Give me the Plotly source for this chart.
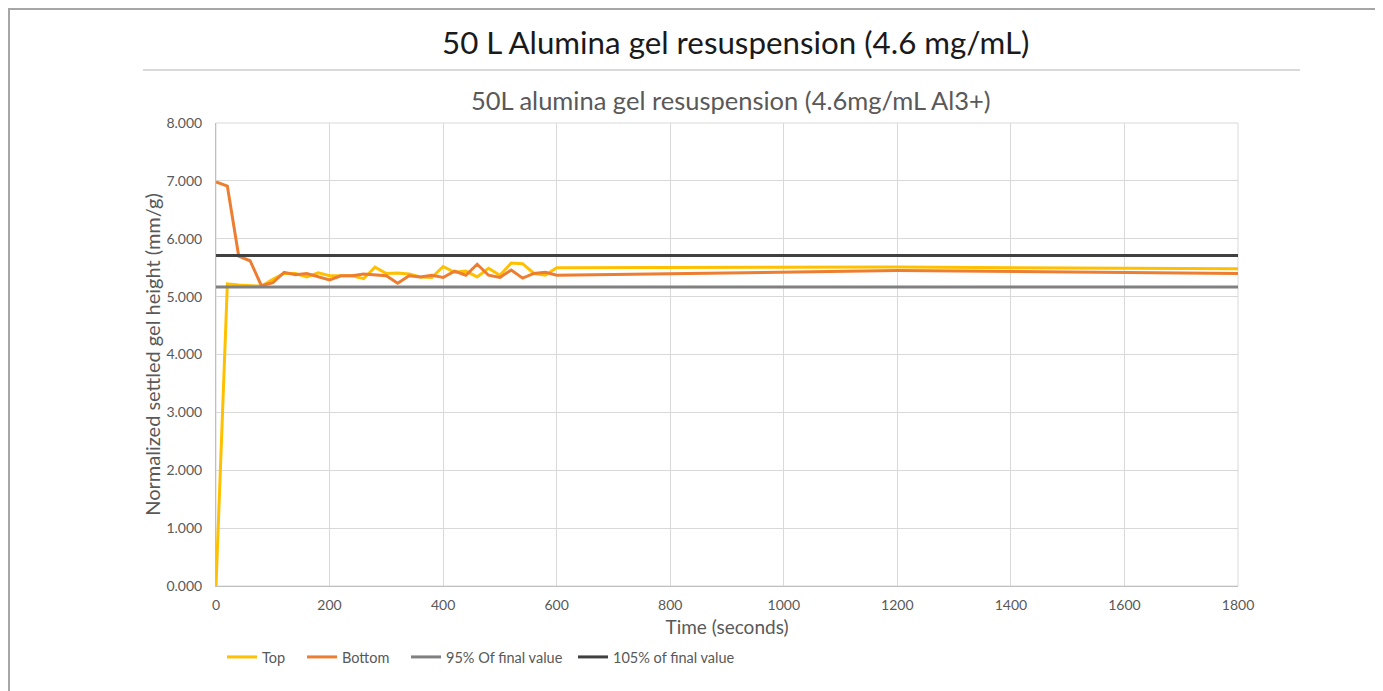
import plotly.graph_objects as go

# Tempo (s) e alturas normalizadas (mm/g)
time_s = [0, 20, 40, 60, 80, 100, 120, 140, 160, 180, 200, 220, 240, 260, 280, 300,
          320, 340, 360, 380, 400, 420, 440, 460, 480, 500, 520, 540, 560, 580, 600,
          1200, 1800]
top = [0.0, 5.22, 5.20, 5.19, 5.18, 5.30, 5.40, 5.40, 5.34, 5.41, 5.36, 5.36, 5.36, 5.31,
       5.51, 5.40, 5.41, 5.39, 5.34, 5.33, 5.52, 5.42, 5.44, 5.34, 5.49, 5.37, 5.58, 5.57,
       5.40, 5.37, 5.50, 5.51, 5.48]
bottom = [6.98, 6.91, 5.70, 5.62, 5.19, 5.24, 5.42, 5.38, 5.40, 5.34, 5.29, 5.36, 5.36,
          5.39, 5.38, 5.36, 5.23, 5.36, 5.34, 5.37, 5.33, 5.44, 5.37, 5.56, 5.37, 5.33,
          5.46, 5.32, 5.40, 5.42, 5.37, 5.45, 5.40]

ref_time = [0, 1800]
low_95 = [5.168, 5.168]
high_105 = [5.712, 5.712]

x_ticks = [0, 200, 400, 600, 800, 1000, 1200, 1400, 1600, 1800]
y_ticks = [0, 1, 2, 3, 4, 5, 6, 7, 8]

# a página tem margem de 8px no body; trabalho em coordenadas da página
OFF = 8
W, H = 1383 - OFF, 691 - OFF
L, R, T, B = 216, 1238, 123, 586


def px(x):
    return (x - L) / (R - L)


def py(y):
    return (B - y) / (B - T)


font = 'Lato, "Open Sans", sans-serif'
tick_color = '#595959'

series = [
    ('Top', time_s, top, '#FFC000', 'legend', 222),
    ('Bottom', time_s, bottom, '#ED7D31', 'legend2', 302),
    ('95% Of final value', ref_time, low_95, '#808080', 'legend3', 406),
    ('105% of final value', ref_time, high_105, '#404040', 'legend4', 573),
]

fig = go.Figure()
for name, xs, ys, color, lg, _ in series:
    fig.add_trace(go.Scatter(x=xs, y=ys, name=name, mode='lines', legend=lg,
                             line=dict(color=color, width=3)))

# uma legenda por série para acertar o espaçamento
legends = {}
for name, xs, ys, color, lg, lx in series:
    legends[lg] = dict(orientation='h', x=px(lx), xanchor='left', y=py(657),
                       yanchor='middle', font=dict(size=14.5, color=tick_color),
                       itemwidth=30, bgcolor='rgba(0,0,0,0)')

fig.update_layout(
    width=W, height=H,
    margin=dict(l=L - OFF, r=W - (R - OFF), t=T - OFF, b=H - (B - OFF)),
    paper_bgcolor='white', plot_bgcolor='white',
    font=dict(family=font, color=tick_color, size=13),
    showlegend=True,
    xaxis=dict(range=[0, 1800], tickvals=x_ticks, showgrid=True, gridcolor='#d9d9d9',
               showline=True, linecolor='#bfbfbf', linewidth=1, mirror=False,
               ticks='', zeroline=False, tickfont=dict(size=14, color=tick_color),
               ticklabelstandoff=6,
               title=dict(text='Time (seconds)', font=dict(size=19, color=tick_color),
                          standoff=8)),
    yaxis=dict(range=[0, 8], tickvals=y_ticks, tickformat='.3f', showgrid=True,
               gridcolor='#d9d9d9', showline=True, linecolor='#bfbfbf', linewidth=1,
               ticks='', zeroline=False, tickfont=dict(size=14, color=tick_color),
               ticklabelstandoff=10,
               title=dict(text='Normalized settled gel height (mm/g)',
                          font=dict(size=20, color=tick_color), standoff=0)),
    shapes=[
        # moldura externa
        dict(type='rect', xref='paper', yref='paper', x0=px(9), x1=px(1380),
             y0=py(720), y1=py(9), line=dict(color='#a6a6a6', width=2), layer='below'),
        # linha sob o título
        dict(type='line', xref='paper', yref='paper', x0=px(143), x1=px(1300),
             y0=py(70), y1=py(70), line=dict(color='#d9d9d9', width=2)),
        # borda da área de plotagem
        dict(type='rect', xref='paper', yref='paper', x0=0, x1=1, y0=0, y1=1,
             line=dict(color='#d9d9d9', width=1), layer='below'),
    ],
    annotations=[
        dict(text='50 L Alumina gel resuspension (4.6 mg/mL)', xref='paper', yref='paper',
             x=px(735), y=py(42), xanchor='center', yanchor='middle', showarrow=False,
             font=dict(size=31.3, color='#1a1a1a', family=font)),
        dict(text='50L alumina gel resuspension (4.6mg/mL Al3+)', xref='paper', yref='paper',
             x=px(731), y=py(100), xanchor='center', yanchor='middle', showarrow=False,
             font=dict(size=25.5, color=tick_color, family=font)),
    ],
    **legends,
)

fig.write_html("out.html")
